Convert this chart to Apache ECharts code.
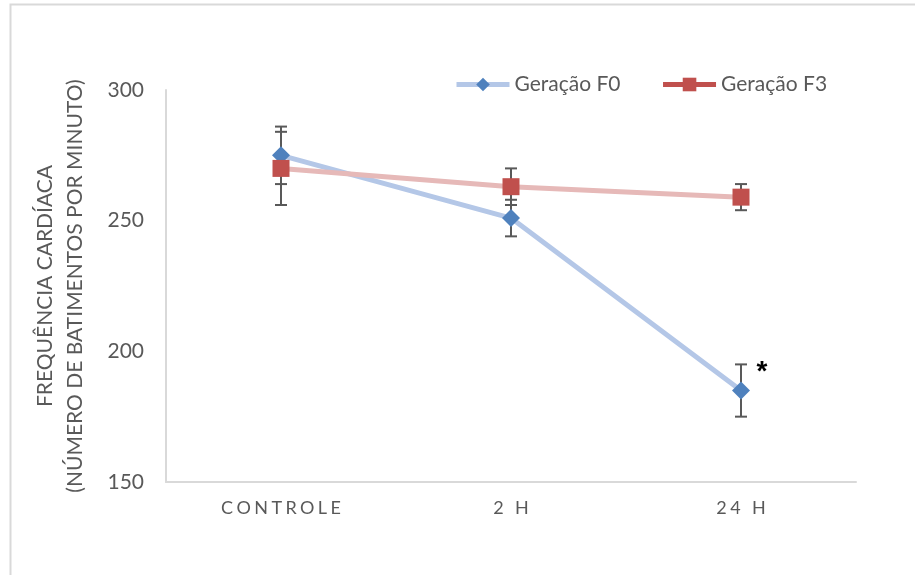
<!DOCTYPE html>
<html>
<head>
<meta charset="utf-8">
<script src="https://cdn.jsdelivr.net/npm/echarts@6/dist/echarts.min.js"></script>
<style>
  html, body { margin: 0; padding: 0; background: #ffffff; }
  #chart { width: 915px; height: 575px; }
</style>
</head>
<body>
<div id="chart"></div>
<script>
// Heart-rate data per time point for two generations
const categories = ['CONTROLE', '2 H', '24 H'];
const f0Mean = [275, 251, 185];
const f0Err = [11, 7, 10];
const f3Mean = [270, 263, 259];
const f3Err = [14, 7, 5];
const f0Marks = ['', '', '*'];
const yTicks = { min: 150, max: 300, interval: 50 };

const FONT = 'Lato';
const GREY_TXT = '#595959';

// spread letters a little, like the spaced category labels
function spaced(s) {
  return s.split('').join('\u2009\u200A');
}

function errorSeries(name, means, errs, marks) {
  return {
    type: 'custom',
    name: name + ' err',
    z: 1,
    silent: true,
    data: means.map((m, i) => [i, m - errs[i], m + errs[i], marks ? marks[i] : '']),
    renderItem: function (params, api) {
      const x = api.coord([api.value(0), 0])[0];
      const lo = api.coord([api.value(0), api.value(1)])[1];
      const hi = api.coord([api.value(0), api.value(2)])[1];
      const mark = api.value(3);
      const cap = 6;
      const style = { stroke: '#595959', lineWidth: 2 };
      const children = [
        { type: 'line', shape: { x1: x, y1: lo, x2: x, y2: hi }, style: style },
        { type: 'line', shape: { x1: x - cap, y1: lo, x2: x + cap, y2: lo }, style: style },
        { type: 'line', shape: { x1: x - cap, y1: hi, x2: x + cap, y2: hi }, style: style }
      ];
      if (mark) {
        children.push({
          type: 'text', z2: 10,
          style: { text: mark, x: x + 21, y: hi + 8, fill: '#000', font: 'bold 28px "Liberation Sans"', align: 'center', verticalAlign: 'middle' }
        });
      }
      return { type: 'group', children: children };
    }
  };
}

const chart = echarts.init(document.getElementById('chart'), null, { renderer: 'canvas' });
chart.setOption({
  backgroundColor: '#ffffff',
  animation: false,
  graphic: [{
    type: 'rect', silent: true, z: -10,
    shape: { x: 10.5, y: 4.5, width: 1000, height: 1000 },
    style: { fill: 'none', stroke: '#D9D9D9', lineWidth: 2 }
  }],
  legend: {
    left: 449, top: 69,
    itemWidth: 53, itemHeight: 17, itemGap: 40,
    textStyle: { fontFamily: FONT, fontSize: 21, color: GREY_TXT },
    data: [
      { name: 'Geração F0', lineStyle: { color: '#B4C7E7', width: 5 } },
      { name: 'Geração F3', lineStyle: { color: '#C0504D', width: 5 } }
    ]
  },
  grid: { left: 166, right: 59, top: 90, bottom: 93, containLabel: false },
  xAxis: {
    type: 'category',
    data: categories,
    boundaryGap: true,
    axisLine: { lineStyle: { color: '#D9D9D9', width: 2 } },
    axisTick: { show: false },
    axisLabel: {
      fontFamily: FONT, fontSize: 18, color: GREY_TXT, margin: 17,
      formatter: v => spaced(v)
    }
  },
  yAxis: {
    type: 'value',
    min: yTicks.min, max: yTicks.max, interval: yTicks.interval,
    name: 'FREQUÊNCIA CARDÍACA\n(NÚMERO DE BATIMENTOS POR MINUTO)',
    nameLocation: 'middle',
    nameGap: 76,
    nameTextStyle: { fontFamily: FONT, fontSize: 21, color: GREY_TXT, lineHeight: 30 },
    axisLine: { show: true, lineStyle: { color: '#D9D9D9', width: 2 } },
    axisTick: { show: false },
    splitLine: { show: false },
    axisLabel: { fontFamily: FONT, fontSize: 21, color: GREY_TXT, margin: 22 }
  },
  series: [
    errorSeries('Geração F0', f0Mean, f0Err, f0Marks),
    errorSeries('Geração F3', f3Mean, f3Err, null),
    {
      name: 'Geração F0', type: 'line', data: f0Mean, z: 3,
      symbol: 'diamond', symbolSize: [18, 18],
      lineStyle: { color: '#B4C7E7', width: 5 },
      itemStyle: { color: '#4F81BD' }
    },
    {
      name: 'Geração F3', type: 'line', data: f3Mean, z: 4,
      symbol: 'rect', symbolSize: [17, 17],
      lineStyle: { color: '#E6B9B8', width: 5 },
      itemStyle: { color: '#C0504D' }
    }
  ]
});
</script>
</body>
</html>
